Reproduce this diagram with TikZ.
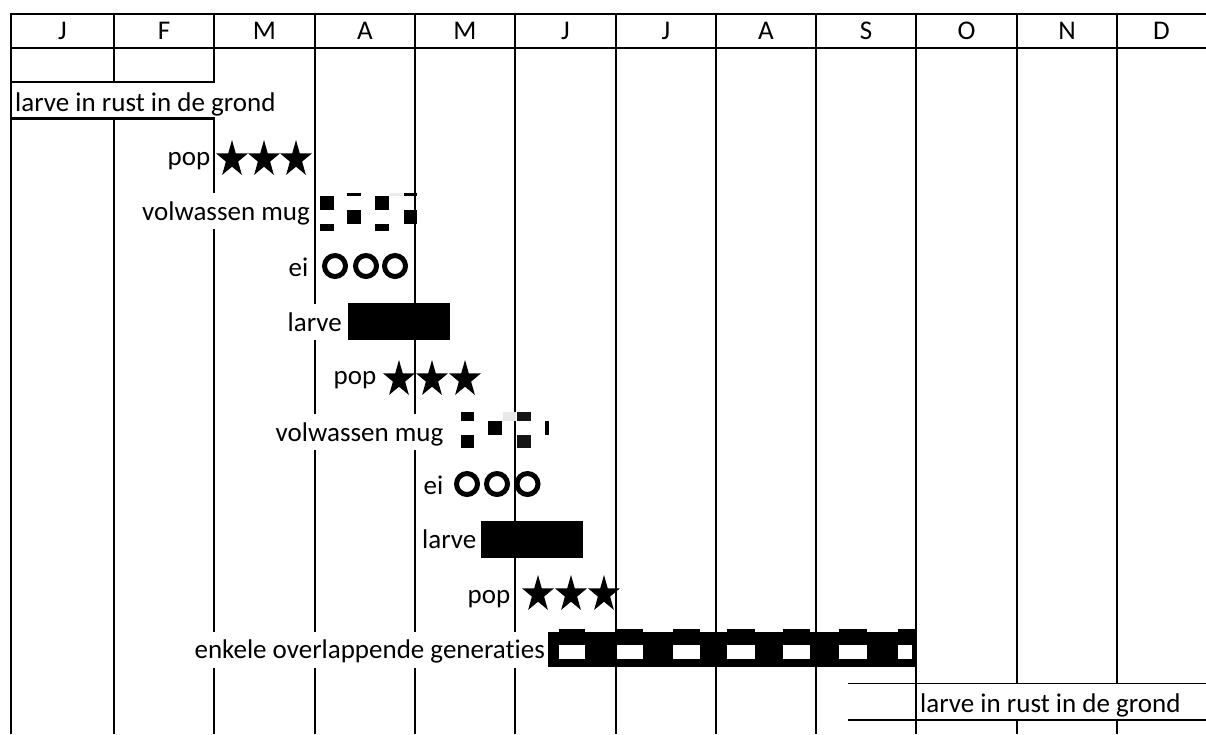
\documentclass[tikz,border=0pt]{standalone}
\usepackage{fontspec}
\setmainfont{Carlito}[Ligatures={NoCommon,NoContextual}]
\begin{document}
\begin{tikzpicture}[x=1pt,y=-1pt,
  grid/.style={line width=2pt},
  txt/.style={font=\fontsize{27}{30}\selectfont},
  lbl/.style={txt, fill=white, inner xsep=1.5pt, inner ysep=0pt,
    text height=27pt, text depth=9pt, anchor=base east},
  widelbl/.style={txt, fill=white, inner xsep=2pt, inner ysep=0pt,
    text height=29.7pt, anchor=base west},
  hdr/.style={txt, inner sep=0pt, anchor=base},
  ring/.style={line width=5pt},
  pics/starglyph/.style={code={
    \fill[xscale=0.87] (-90:19.3) -- (-54:7.4) -- (-18:19.3) -- (18:7.4)
      -- (54:19.3) -- (90:7.4) -- (126:19.3) -- (162:7.4) -- (198:19.3)
      -- (234:7.4) -- cycle;}}
]
\useasboundingbox (0,0) rectangle (1206,734);

% month grid
\draw[grid] (10,14) -- (1206,14);
\draw[grid] (10,48) -- (1206,48);
\foreach \x in {11,214,315,415,515,616,716,816,916,1017,1117}
  \draw[grid] (\x,14) -- (\x,734);
\draw[grid] (114,14) -- (114,82);
\draw[grid] (114,118) -- (114,734);

\foreach \x/\t [count=\i] in {62.5/J,164/F,264.5/M,365/A,465/M,565.5/J,666/J,766/A,866/S,966.5/O,1067/N,1161.5/D}
  \node[hdr] (h\i) at (\x,39.3) {\t};

% resting larvae, winter
\node[widelbl, text depth=6.3pt] (restA) at (13,111.7) {larve in rust in de grond};
\node[widelbl, text depth=7.3pt] (restB) at (918,712.7) {larve in rust in de grond};
\draw[line width=2pt] (10,82) -- (215,82);
\draw[line width=3pt] (10,118) -- (215,118);
\draw[line width=1.5pt] (848,683.3) -- (1206,683.3);
\draw[line width=2.6pt] (848,720) -- (1206,720);

% stage labels
\node[lbl] (pop1) at (212,165) {pop};
\node[lbl] (mug1) at (311.5,220) {volwassen mug};
\node[lbl] (ei1)  at (310,276.5) {ei};
\node[lbl] (lar1) at (343.5,331) {larve};
\node[lbl] (pop2) at (378,384) {pop};
\node[lbl] (mug2) at (445,441) {volwassen mug};
\node[lbl] (ei2)  at (445,494) {ei};
\node[lbl] (lar2) at (478,548.5) {larve};
\node[lbl] (pop3) at (512,603) {pop};
\node[lbl] (gen)  at (546.5,658.5) {enkele overlappende generaties};

% pupae
\foreach \x in {232,264,296} \pic at (\x,159.3) {starglyph};
\foreach \x in {399,432,465} \pic at (\x,379.3) {starglyph};
\foreach \x in {538,571,604} \pic at (\x,594.3) {starglyph};

% eggs
\foreach \x in {335,366,395} \draw[ring] (\x,266) circle (10.5);
\foreach \x in {467,497,527.5} \draw[ring] (\x,484) circle (10.5);

% larvae
\fill (348,303) rectangle (450,339.5);
\fill (481,521) rectangle (582.7,557.7);

% adults, first generation
\fill (320,196) rectangle (333.5,210);
\fill (320,224) rectangle (333.5,230.5);
\fill (347,192.7) rectangle (361,195.5);
\fill (347,210) rectangle (361,224);
\fill (375,196) rectangle (389,210);
\fill (375,224) rectangle (389,230.5);
\fill[black!8] (390,192.7) rectangle (403,195.5);
\fill (404,192.7) rectangle (417,195.5);
\fill (404,210) rectangle (417,224);

% adults, second generation
\fill (460.5,411.5) rectangle (474,421);
\fill (460.5,435) rectangle (474,448.3);
\fill (488.3,421) rectangle (501.7,435);
\fill[black!9] (502.5,411.5) rectangle (516,421);
\fill[black!92] (516.5,411.5) rectangle (530.7,421);
\fill[black!92] (516.5,435) rectangle (530.7,448.3);
\fill (545,421) rectangle (549.3,435);

% overlapping generations
\fill (548.3,632) rectangle (917.3,666.7);
\foreach \a/\b in {559.3/585,616.7/643.3,672.7/700,727.3/755,783.3/810,839.3/866.7,898/917.3}
  \fill (\a,629) rectangle (\b,632.5);
\foreach \a/\b in {559.3/585,616.7/643.3,672.7/700,727.3/755,783.3/810,839.3/866.7,898/912}
  \fill[white] (\a,645) rectangle (\b,659);
\end{tikzpicture}
\end{document}
